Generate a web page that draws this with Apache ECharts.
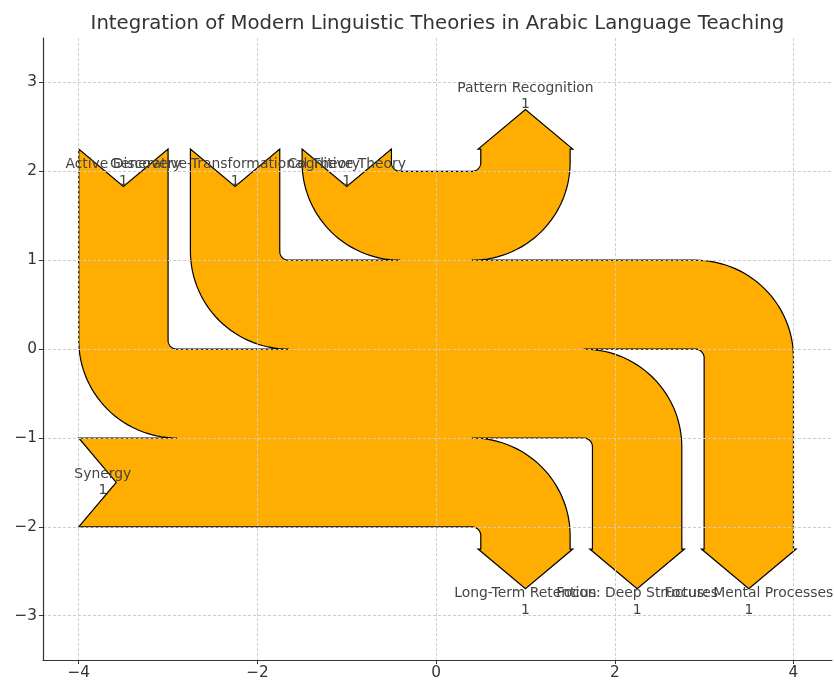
<!DOCTYPE html>
<html>
<head>
<meta charset="utf-8">
<script src="https://cdn.jsdelivr.net/npm/echarts@6/dist/echarts.min.js"></script>
<style>
html, body { margin: 0; padding: 0; background: #ffffff; }
#chart { width: 834px; height: 681px; }
</style>
</head>
<body>
<div id="chart"></div>
<script>
// ---------------- data ----------------
const chartTitle = 'Integration of Modern Linguistic Theories in Arabic Language Teaching';
const flowLabels = [
  'Cognitive Theory',
  'Generative-Transformational Theory',
  'Active Discovery',
  'Synergy',
  'Pattern Recognition',
  'Focus: Mental Processes',
  'Focus: Deep Structures',
  'Long-Term Retention'
];
const flows = [1, 1, 1, 1, -1, -1, -1, -1];
// 1 = top, 0 = side, -1 = bottom
const orientations = [1, 1, 1, 0, 1, -1, -1, -1];
const xTicks = [-4, -3, -2, -1, 0, 1, 2, 3, 4];
const yTicks = [-3, -2, -1, 0, 1, 2, 3];

// ---------------- sankey layout parameters ----------------
const GAP = 0.25, RADIUS = 0.1, SHOULDER = 0.03, OFFSET = 0.15;
const HEAD_ANGLE = 100, TRUNK = 1.0, PATHLEN = 0.25, MARGIN = 0.4;
const PITCH = Math.tan(Math.PI * (1 - HEAD_ANGLE / 180) / 2);

function arcPts(quadrant, cw, radius, cx, cy) {
  let a0 = quadrant * 90, a1 = a0 + 90;
  if (!cw) { const t = a0; a0 = a1; a1 = t; }
  const pts = [];
  const N = 30;
  for (let k = 0; k <= N; k++) {
    const a = (a0 + (a1 - a0) * k / N) * Math.PI / 180;
    pts.push([cx + radius * Math.cos(a), cy + radius * Math.sin(a)]);
  }
  return pts;
}

function buildSankey(fl, orient) {
  const RIGHT = 0, UP = 1, DOWN = 3;
  const n = fl.length;
  const gain = fl.reduce((s, f) => s + Math.max(f, 0), 0);
  const loss = fl.reduce((s, f) => s + Math.min(f, 0), 0);
  const isIn = fl.map(f => f > 0);
  const angles = orient.map((o, i) => o === 1 ? (isIn[i] ? DOWN : UP) : (o === 0 ? RIGHT : (isIn[i] ? UP : DOWN)));
  const lens = new Array(n).fill(0);
  let ul = PATHLEN, ur = PATHLEN, ll = PATHLEN, lr = PATHLEN;
  for (let i = 0; i < n; i++) {
    if (angles[i] === DOWN && isIn[i]) { lens[i] = ul; ul += fl[i]; }
    else if (angles[i] === UP && !isIn[i]) { lens[i] = ur; ur -= fl[i]; }
  }
  for (let i = n - 1; i >= 0; i--) {
    if (angles[i] === UP && isIn[i]) { lens[i] = ll; ll += fl[i]; }
    else if (angles[i] === DOWN && !isIn[i]) { lens[i] = lr; lr -= fl[i]; }
  }
  const h = TRUNK / 2;
  const urP = [[GAP - h, gain / 2], [(GAP - h) / 2, gain / 2], [(h - GAP) / 2, -loss / 2], [h - GAP, -loss / 2]];
  const llP = [[h - GAP, loss / 2], [(h - GAP) / 2, loss / 2], [(GAP - h) / 2, -gain / 2], [GAP - h, -gain / 2]];
  const lrP = [[h - GAP, loss / 2]];
  const ulP = [[GAP - h, gain / 2]];
  const labelAt = new Array(n);
  const tips = new Array(n);
  const last = p => p[p.length - 1];

  function addInput(path, angle, flow, length) {
    const [x0, y0] = last(path);
    const dipdepth = (flow / 2) * PITCH;
    if (angle === RIGHT) {
      const x = x0 - length;
      const dip = [x + dipdepth, y0 + flow / 2];
      path.push([x, y0], dip, [x, y0 + flow], [x + GAP, y0 + flow]);
      return [dip, [dip[0] - OFFSET, dip[1]]];
    }
    const x = x0 - GAP;
    const sign = angle === UP ? 1 : -1;
    const dip = [x - flow / 2, y0 - sign * (length - dipdepth)];
    const quadrant = angle === DOWN ? 2 : 1;
    path.push(...arcPts(quadrant, angle === UP, RADIUS, x + RADIUS, y0 - sign * RADIUS));
    path.push([x, y0 - sign * length], dip, [x - flow, y0 - sign * length]);
    path.push(...arcPts(quadrant, angle === DOWN, flow + RADIUS, x + RADIUS, y0 - sign * RADIUS));
    path.push([x - flow, y0 + sign * flow]);
    return [dip, [dip[0], dip[1] - sign * OFFSET]];
  }

  function addOutput(path, angle, flow, length) {
    const [x0, y0] = last(path);
    const tipheight = (SHOULDER - flow / 2) * PITCH;
    if (angle === RIGHT) {
      const x = x0 + length;
      const tip = [x + tipheight, y0 + flow / 2];
      path.push([x, y0], [x, y0 + SHOULDER], tip, [x, y0 - SHOULDER + flow], [x, y0 + flow], [x - GAP, y0 + flow]);
      return [tip, [tip[0] + OFFSET, tip[1]]];
    }
    const x = x0 + GAP;
    const sign = angle === UP ? 1 : -1;
    const quadrant = angle === UP ? 3 : 0;
    const tip = [x - flow / 2, y0 + sign * (length + tipheight)];
    path.push(...arcPts(quadrant, angle === UP, RADIUS, x - RADIUS, y0 + sign * RADIUS));
    path.push([x, y0 + sign * length], [x - SHOULDER, y0 + sign * length], tip,
              [x + SHOULDER - flow, y0 + sign * length], [x - flow, y0 + sign * length]);
    path.push(...arcPts(quadrant, angle === DOWN, RADIUS - flow, x - RADIUS, y0 + sign * RADIUS));
    path.push([x - flow, y0 + sign * flow]);
    return [tip, [tip[0], tip[1] + sign * OFFSET]];
  }

  for (let i = 0; i < n; i++) {
    if (angles[i] === DOWN && isIn[i]) [tips[i], labelAt[i]] = addInput(ulP, angles[i], fl[i], lens[i]);
    else if (angles[i] === UP && !isIn[i]) [tips[i], labelAt[i]] = addOutput(urP, angles[i], fl[i], lens[i]);
  }
  for (let i = n - 1; i >= 0; i--) {
    if (angles[i] === UP && isIn[i]) [tips[i], labelAt[i]] = addInput(llP, angles[i], fl[i], lens[i]);
    else if (angles[i] === DOWN && !isIn[i]) [tips[i], labelAt[i]] = addOutput(lrP, angles[i], fl[i], lens[i]);
  }
  let hasLeft = false;
  for (let i = n - 1; i >= 0; i--) {
    if (angles[i] === RIGHT && isIn[i]) {
      if (!hasLeft) {
        if (last(llP)[0] > last(ulP)[0]) llP.push([last(ulP)[0], last(llP)[1]]);
        hasLeft = true;
      }
      [tips[i], labelAt[i]] = addInput(llP, angles[i], fl[i], lens[i]);
    }
  }
  let hasRight = false;
  for (let i = 0; i < n; i++) {
    if (angles[i] === RIGHT && !isIn[i]) {
      if (!hasRight) {
        if (last(urP)[0] < last(lrP)[0]) urP.push([last(lrP)[0], last(urP)[1]]);
        hasRight = true;
      }
      [tips[i], labelAt[i]] = addOutput(urP, angles[i], fl[i], lens[i]);
    }
  }
  // trim hanging vertices
  if (!hasLeft) { ulP.pop(); llP.pop(); }
  if (!hasRight) { lrP.pop(); urP.pop(); }
  const outline = urP.concat(lrP.slice().reverse(), llP, ulP.slice().reverse());
  return { outline, labelAt };
}

const sankey = buildSankey(flows, orientations);
let xmin = Infinity, xmax = -Infinity, ymin = Infinity, ymax = -Infinity;
sankey.outline.concat(sankey.labelAt).forEach(p => {
  xmin = Math.min(xmin, p[0]); xmax = Math.max(xmax, p[0]);
  ymin = Math.min(ymin, p[1]); ymax = Math.max(ymax, p[1]);
});
const xLo = +(xmin - MARGIN).toFixed(3), xHi = +(xmax + MARGIN).toFixed(3);
// equal aspect: the y extent grows to fill the plot box
const GRID = { left: 43, top: 38.2, width: 788.9, height: 625 };
const yHalf = (xHi - xLo) * GRID.height / GRID.width / 2;
const yMid = (ymin + ymax) / 2;
const yLo = +(yMid - yHalf).toFixed(3), yHi = +(yMid + yHalf).toFixed(3);

const FONT = 'DejaVu Sans';
const fmtTick = v => (v < 0 ? '\u2212' + Math.abs(v) : String(v));

const chart = echarts.init(document.getElementById('chart'), null, { renderer: 'canvas' });
const axisCommon = {
  type: 'value',
  z: 3,
  axisLine: { show: true, onZero: false, lineStyle: { color: '#333333', width: 1.2 } },
  axisTick: { show: true, inside: false, length: 4, lineStyle: { color: '#333333', width: 1 } },
  splitLine: { show: true, showMinLine: false, showMaxLine: false,
               lineStyle: { color: '#cccccc', width: 1, type: [3, 2] } },
  axisLabel: { fontFamily: FONT, fontSize: 15.3, color: '#333333', margin: 6,
               showMinLabel: false, showMaxLabel: false }
};

chart.setOption({
  animation: false,
  backgroundColor: '#ffffff',
  title: {
    text: chartTitle,
    left: GRID.left + GRID.width / 2 - 5,
    textAlign: 'center',
    top: 8.5,
    textStyle: { fontFamily: FONT, fontSize: 19.7, fontWeight: 'normal', color: '#333333' }
  },
  grid: GRID,
  xAxis: Object.assign({}, axisCommon, {
    min: xLo, max: xHi,
    axisLabel: Object.assign({}, axisCommon.axisLabel, {
      formatter: v => (xTicks.indexOf(v) >= 0 ? fmtTick(v) : '')
    })
  }),
  yAxis: Object.assign({}, axisCommon, {
    min: yLo, max: yHi,
    axisLabel: Object.assign({}, axisCommon.axisLabel, {
      formatter: v => (yTicks.indexOf(v) >= 0 ? fmtTick(v) : '')
    })
  }),
  series: [
    {
      type: 'custom',
      name: 'flows',
      coordinateSystem: 'cartesian2d',
      z: 1,
      silent: true,
      data: [[0, 0]],
      renderItem: function (params, api) {
        const pts = sankey.outline.map(p => api.coord(p));
        return {
          type: 'polygon',
          shape: { points: pts },
          style: { fill: '#FFAD00', stroke: '#000000', lineWidth: 1.2, lineJoin: 'miter', miterLimit: 10 }
        };
      }
    },
    {
      type: 'custom',
      name: 'labels',
      coordinateSystem: 'cartesian2d',
      z: 5,
      silent: true,
      data: sankey.labelAt.map((p, i) => ({ value: p, name: flowLabels[i] })),
      renderItem: function (params, api) {
        const c = api.coord([api.value(0), api.value(1)]);
        const i = params.dataIndex;
        return {
          type: 'text',
          x: c[0], y: c[1],
          style: {
            text: flowLabels[i] + '\n' + String(Math.abs(flows[i])),
            align: 'center', verticalAlign: 'middle',
            fontFamily: FONT, fontSize: 13.9, lineHeight: 16.7,
            fill: '#444444'
          }
        };
      }
    }
  ]
});
</script>
</body>
</html>
